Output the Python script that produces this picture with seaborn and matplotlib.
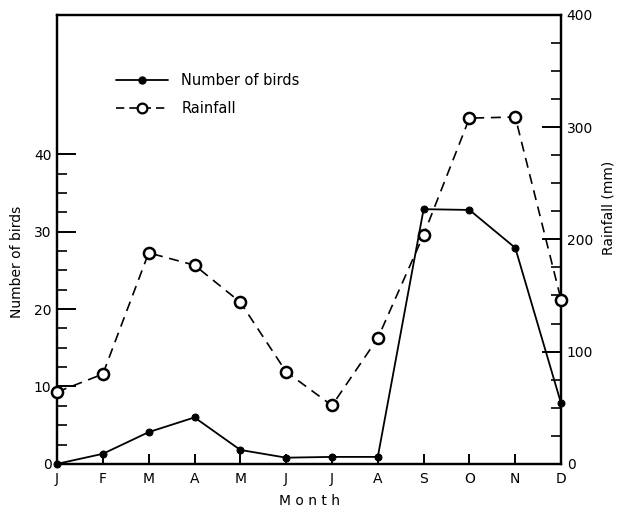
import numpy as np
import pandas as pd
import matplotlib
matplotlib.use("Agg")
import matplotlib.pyplot as plt
import seaborn as sns
from matplotlib.lines import Line2D
from matplotlib.legend_handler import HandlerLine2D

months = ['J', 'F', 'M', 'A', 'M', 'J', 'J', 'A', 'S', 'O', 'N', 'D']
birds = [0, 1.3, 4.1, 6.0, 1.8, 0.8, 0.9, 0.9, 32.9, 32.8, 27.9, 7.8]
rainfall = [64, 80, 188, 177, 144, 82, 52, 112, 204, 308, 309, 146]

df = pd.DataFrame({'pos': np.arange(len(months)), 'birds': birds, 'rain': rainfall})

sns.set_style("ticks")
plt.rcParams['font.family'] = ['DejaVu Sans']
plt.rcParams['text.color'] = 'black'
plt.rcParams['axes.labelcolor'] = 'black'
plt.rcParams['xtick.color'] = 'black'
plt.rcParams['ytick.color'] = 'black'


class LeftMarker(HandlerLine2D):
    # put the marker at the left end of the legend line, like the original
    def get_xdata(self, legend, xdescent, ydescent, width, height, fontsize):
        return np.array([-xdescent, -xdescent + width]), np.array([-xdescent])


fig = plt.figure(figsize=(6.2, 5.12), dpi=100)
ax = fig.add_axes([0.092, 0.094, 0.813, 0.877])
ax2 = ax.twinx()

sns.lineplot(data=df, x='pos', y='birds', ax=ax, color='black', lw=1.3,
             marker='o', markersize=5, markeredgecolor='black', markerfacecolor='black',
             clip_on=False, zorder=3)
sns.lineplot(data=df, x='pos', y='rain', ax=ax2, color='black', lw=1.2,
             marker='o', markersize=8, markerfacecolor='white', markeredgecolor='black',
             markeredgewidth=1.8, clip_on=False, zorder=3)
ax2.lines[0].set_dashes([6, 4])

ax.set_xlim(0, 11)
ax.set_ylim(0, 58)
ax2.set_ylim(0, 400)

ax.set_xticks(df['pos'])
ax.set_xticklabels(months)
ax.set_yticks([0, 10, 20, 30, 40])
ax.set_yticks(np.arange(0, 40.1, 2.5), minor=True)
ax2.set_yticks([0, 100, 200, 300, 400])
ax2.set_yticks(np.arange(0, 400.1, 25), minor=True)

for a in (ax, ax2):
    for s in a.spines.values():
        s.set_linewidth(1.6)
        s.set_color('black')
ax.tick_params(axis='x', direction='in', length=7, width=1.4, pad=6, labelsize=10)
ax.tick_params(axis='y', which='major', direction='in', length=14, width=1.4, pad=4, labelsize=10)
ax.tick_params(axis='y', which='minor', direction='in', length=7, width=1.2)
ax2.tick_params(axis='y', which='major', direction='in', length=14, width=1.4, pad=4, labelsize=10)
ax2.tick_params(axis='y', which='minor', direction='in', length=7, width=1.2)

ax.set_xlabel('M o n t h', fontsize=10, labelpad=4)
ax.xaxis.set_label_coords(0.5, -0.068)
ax.set_ylabel('Number of birds', fontsize=10)
ax.yaxis.set_label_coords(-0.065, 0.45)
ax2.set_ylabel('Rainfall (mm)', fontsize=10, rotation=90, va='center')
ax2.yaxis.set_label_coords(1.095, 0.57)

h1 = Line2D([], [], color='black', lw=1.3, marker='o', markersize=5)
h2 = Line2D([], [], color='black', lw=1.2, dashes=[5, 3], marker='o', markersize=7,
            markerfacecolor='white', markeredgewidth=1.6)
ax.legend([h1, h2], ['Number of birds', 'Rainfall'], loc='upper left',
          bbox_to_anchor=(0.09, 0.9), frameon=False, handlelength=3.6, handletextpad=0.9,
          labelspacing=0.9, fontsize=10.5,
          handler_map={h1: LeftMarker(), h2: LeftMarker()})

fig.savefig('out.png', dpi=100)
